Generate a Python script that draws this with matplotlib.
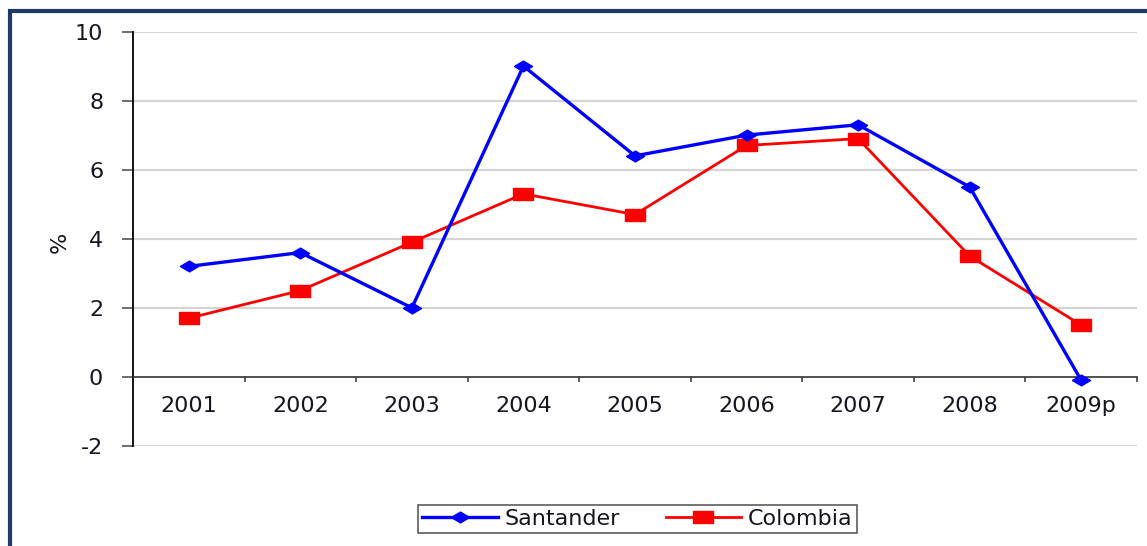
import matplotlib
matplotlib.use("Agg")
import matplotlib.pyplot as plt
from matplotlib.lines import Line2D
import numpy as np

# Annual growth (%) by year
years = ["2001", "2002", "2003", "2004", "2005", "2006", "2007", "2008", "2009p"]
santander = [3.2, 3.6, 2.0, 9.0, 6.4, 7.0, 7.3, 5.5, -0.1]
colombia = [1.7, 2.5, 3.9, 5.3, 4.7, 6.7, 6.9, 3.5, 1.5]
y_ticks = [-2, 0, 2, 4, 6, 8, 10]

W, H = 1147, 546
fig = plt.figure(figsize=(W / 100, H / 100), dpi=100)
fig.patch.set_facecolor("white")

# navy frame along the top and left edges
navy = "#1f3864"
fig.add_artist(Line2D([8 / W, 1.0], [1 - 11 / H, 1 - 11 / H], color=navy, lw=3.0,
                      transform=fig.transFigure, solid_capstyle="butt"))
fig.add_artist(Line2D([9.5 / W, 9.5 / W], [1 - 9 / H, 0.0], color=navy, lw=3.0,
                      transform=fig.transFigure, solid_capstyle="butt"))

ax = fig.add_axes([133 / W, 1 - 446 / H, (1137 - 133) / W, (446 - 31.5) / H])
ax.set_facecolor("white")

x = np.arange(len(years))
ax.set_xlim(-0.5, len(years) - 0.5)
ax.set_ylim(-2, 10)

text_color = "#15151f"
fs = 16

# horizontal gridlines (zero is drawn by the category axis)
for v in y_ticks:
    if v != 0:
        ax.axhline(v, color="#d4d4d4", lw=1.6, zorder=0)

# custom flattened markers
diamond = [(-1.0, 0.0), (0.0, -0.6), (1.0, 0.0), (0.0, 0.6), (-1.0, 0.0)]
rect = [(-1.0, -0.55), (1.0, -0.55), (1.0, 0.55), (-1.0, 0.55), (-1.0, -0.55)]

ax.plot(x, santander, color="#0000ff", lw=2.4, marker=diamond, markersize=13,
        markerfacecolor="#0000ff", markeredgecolor="#0000ff", label="Santander",
        zorder=4, clip_on=False)
ax.plot(x, colombia, color="#ff0000", lw=2.0, marker=rect, markersize=15,
        markerfacecolor="#ff0000", markeredgecolor="#ff0000", label="Colombia",
        zorder=3, clip_on=False)

# spines
for s in ["top", "right"]:
    ax.spines[s].set_visible(False)
ax.spines["left"].set_color("#111111")
ax.spines["left"].set_linewidth(1.4)
ax.spines["bottom"].set_position(("data", 0))
ax.spines["bottom"].set_color("#333333")
ax.spines["bottom"].set_linewidth(1.2)

# y axis
ax.set_yticks(y_ticks)
ax.set_yticklabels([str(v) for v in y_ticks])
ax.tick_params(axis="y", direction="out", length=8, width=1.2, color="#555555",
               pad=13.5, labelsize=fs, labelcolor=text_color)

# category axis: ticks between categories, labels centered
ax.set_xticks(np.arange(len(years) + 1) - 0.5)
ax.set_xticklabels([])
ax.set_xticks(x, minor=True)
ax.set_xticklabels(years, minor=True)
ax.tick_params(axis="x", which="major", direction="out", length=3.5, width=1.2,
               color="#444444")
ax.tick_params(axis="x", which="minor", length=0, pad=14, labelsize=fs,
               labelcolor=text_color)

fig.text(60 / W, 1 - 242 / H, "%", rotation=90, ha="center", va="center",
         fontsize=fs, color=text_color)

leg = fig.legend(loc="center", bbox_to_anchor=(418 / W, 1 - 535 / H, 439 / W, 32 / H),
                 mode="expand", ncol=2, frameon=True, fancybox=False, fontsize=fs,
                 handlelength=3.4, handletextpad=0.3, columnspacing=0.9,
                 borderpad=0.2, borderaxespad=0)
leg.get_frame().set_edgecolor("#333333")
leg.get_frame().set_linewidth(1.2)
for t in leg.get_texts():
    t.set_color(text_color)

fig.savefig("out.png", dpi=100, facecolor="white")
